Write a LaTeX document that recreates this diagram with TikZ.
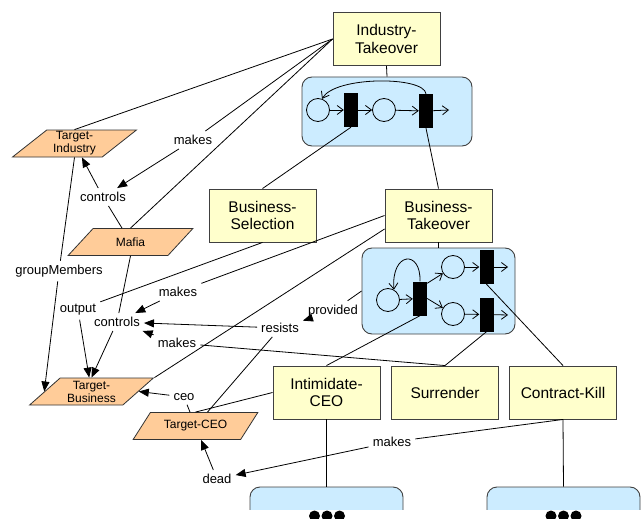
\documentclass[tikz,border=0pt]{standalone}
\usepackage{fontspec}
\setmainfont{Liberation Sans}
\usetikzlibrary{shapes.geometric,arrows.meta,calc}

\definecolor{boxyellow}{HTML}{FFFFCC}
\definecolor{netblue}{HTML}{CCECFF}
\definecolor{objorange}{HTML}{FFCC99}

\tikzset{
  proc/.style={draw=black!75, fill=boxyellow, minimum width=107pt, minimum height=53pt, inner sep=0pt,
    align=center, font=\fontsize{15.5}{17.8}\selectfont, line width=0.9pt},
  obj/.style={trapezium, trapezium left angle=42, trapezium right angle=138, trapezium stretches=true,
    draw=black!80, fill=objorange, minimum width=125pt, minimum height=27pt, inner sep=0pt,
    align=center, font=\fontsize{12}{13}\selectfont, line width=0.8pt},
  rel/.style={inner sep=4pt, font=\fontsize{13}{14}\selectfont},
  net/.style={draw=black!75, fill=netblue, rounded corners=10pt, line width=0.9pt},
  place/.style={circle, draw, minimum size=23pt, inner sep=0pt, line width=0.8pt},
  trans/.style={fill=black, minimum width=14pt, minimum height=34pt, inner sep=0pt},
  flow/.style={-{Straight Barb[length=6pt,width=9pt]}, line width=0.8pt},
  link/.style={line width=0.8pt},
  pointer/.style={-{Triangle[length=10pt,width=8pt]}, line width=0.8pt}
}

\begin{document}
\begin{tikzpicture}[x=1pt,y=-1pt]
        \useasboundingbox (0,0) rectangle (643,519);
        \clip (0,0) rectangle (643,519);

        \node[proc] (indT) at (386.5,39) {Industry-\\Takeover};
        \node[proc] (bsel) at (262.5,215.5) {Business-\\Selection};
        \node[proc] (btak) at (438.5,215.5) {Business-\\Takeover};
        \node[proc] (intim) at (326.5,392.5) {Intimidate-\\CEO};
        \node[proc] (surr) at (445,392.5) {Surrender};
        \node[proc] (ckill) at (563,392.5) {Contract-Kill};

        \node[obj] (tInd) at (74.5,143.5) {Target-\\Industry};
        \node[obj] (mafia) at (130.5,242) {Mafia};
        \node[obj] (tBus) at (91.5,391.5) {Target-\\Business};
        \node[obj] (tCEO) at (195.5,426) {Target-CEO};

        \node[net, minimum width=170pt, minimum height=69pt] (net1) at (387,111.5) {};
        \node[net, minimum width=153pt, minimum height=86pt] (net2) at (438.5,291) {};
        \node[net, minimum width=153pt, minimum height=66pt] (net3) at (326.5,520) {};
        \node[net, minimum width=153pt, minimum height=66pt] (net4) at (563.5,520) {};

        % first net
        \node[place] (p11) at (318,110) {};
        \node[trans] (t11) at (351,110) {};
        \node[place] (p12) at (384,110) {};
        \node[trans] (t12) at (426,111) {};
        \coordinate (o12) at (449,110);
        \draw[flow] (p11) -- (t11);
        \draw[flow] (t11) -- (p12);
        \draw[flow] (p12) -- (t12);
        \draw[flow] (t12) -- (o12);
        \draw[flow] (t12.north) .. controls (424,76) and (335,76) .. (p11.70);

        % second net
        \node[place] (p21) at (388,300) {};
        \node[trans] (t21) at (420,298.5) {};
        \node[place] (p22) at (453,267) {};
        \node[trans] (t22) at (486.5,267) {};
        \node[place] (p23) at (453,314) {};
        \node[trans] (t23) at (486.5,314.5) {};
        \coordinate (o22) at (508,267);
        \coordinate (o23) at (508,315);
        \draw[flow] (p21) -- (t21);
        \draw[flow] ($(t21.north east)+(0,2)$) -- (p22);
        \draw[flow] (t21.east) -- (p23);
        \draw[flow] (p22) -- (t22);
        \draw[flow] (p23) -- (t23);
        \draw[flow] (t22) -- (o22);
        \draw[flow] (t23) -- (o23);
        \draw[flow] (t21.north) .. controls (421,249) and (391,252) .. (p21.60);

        \node[rel] (mkA) at (193,140) {makes};
        \node[rel] (ctlA) at (103,197) {controls};
        \node[rel] (gM) at (59,271) {groupMembers};
        \node[rel] (outL) at (78,310) {output};
        \node[rel] (mkB) at (178,292) {makes};
        \node[rel] (ctlB) at (117,322) {controls};
        \node[rel] (mkC) at (177,343) {makes};
        \node[rel] (rsL) at (280,328) {resists};
        \node[rel] (pvL) at (333,311) {provided};
        \node[rel] (ceoL) at (184,397) {ceo};
        \node[rel] (deadL) at (217,479) {dead};
        \node[rel] (mkD) at (392,442) {makes};

        \draw[link] (indT.south) -- (net1.north);
        \draw[link] (t11.south) -- (bsel.north);
        \draw[link] (t12.south) -- (btak.north);
        \draw[link] (btak.south) -- (net2.north);
        \draw[link] (t21.south) -- (intim.north);
        \draw[link] (t23.south) -- (surr.north);
        \draw[link] (t22.south) -- (ckill.north);
        \draw[link] (intim.south) -- (net3.north);
        \draw[link] (ckill.south) -- (net4.north);

        \draw[link] (indT.west) -- (tInd.north);
        \draw[link] (indT.west) -- (mkA);
        \draw[pointer] (mkA) -- (ctlA);
        \draw[link] (indT.west) -- (mafia.north);
        \draw[pointer] (ctlA) -- (tInd);
        \draw[link] (ctlA) -- (mafia);
        \draw[link] (tInd.south) -- (gM);
        \draw[pointer] (gM) -- (tBus.west);
        \draw[link] (bsel.south) -- (outL);
        \draw[pointer] (outL) -- (tBus);
        \draw[link] (mafia.south) -- (ctlB);
        \draw[link] (btak.west) -- (mkB);
        \draw[pointer] (mkB) -- (ctlB);
        \draw[link] ($(btak.west)+(0,13.5)$) -- (tBus.top right corner);
        \draw[link] (surr.north) -- (mkC);
        \draw[pointer] (mkC) -- (ctlB);
        \draw[pointer] (ctlB) -- (tBus.north);
        \draw[link] (tCEO) -- (rsL);
        \draw[pointer] (rsL) -- (ctlB);
        \draw[link] (net2.west) -- (pvL);
        \draw[pointer] (pvL) -- (rsL);
        \draw[link] (intim.west) -- (tCEO.north);
        \draw[link] (tCEO) -- (ceoL);
        \draw[pointer] (ceoL) -- (tBus.east);
        \draw[link] (ckill.south) -- (mkD);
        \draw[pointer] (mkD) -- (deadL);
        \draw[pointer] (deadL) -- (tCEO);

        \fill[white] (240,509.5) rectangle (643,519);
        \foreach \dx in {314.5,327,339.5,551,563.5,576}
            \fill (\dx,516) circle (5.5);
    \end{tikzpicture}
\end{document}
